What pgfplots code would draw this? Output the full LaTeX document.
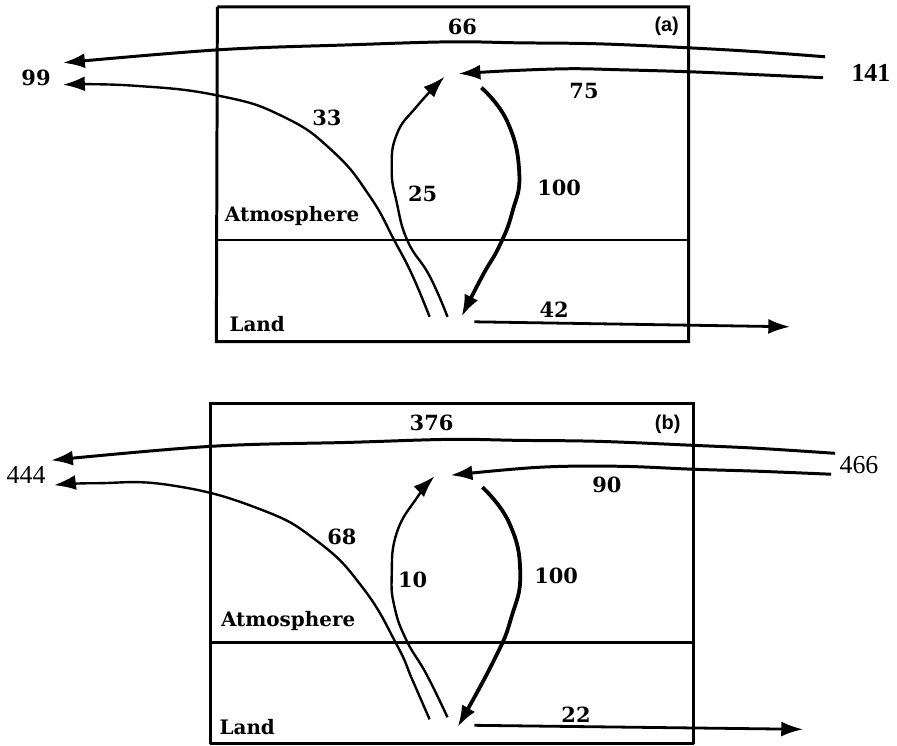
\documentclass[border=0pt]{standalone}
\usepackage{pgfplots}
\pgfplotsset{compat=1.18}
\usetikzlibrary{arrows.meta}
\usepackage{fontspec}
\setmainfont{DejaVu Serif}
\newfontfamily\tnr{Liberation Serif}
\newfontfamily\ssf{Liberation Sans}
\tikzset{
  lbl/.style={font=\bfseries\fontsize{10}{12}\selectfont},
  num/.style={font=\bfseries\fontsize{10.5}{12}\selectfont},
  arr/.style={-{Latex[length=11pt,width=7.5pt]}}}
\begin{document}
\begin{tikzpicture}
\begin{axis}[width=448.5pt,height=374pt,scale only axis,
  xmin=0,xmax=897,ymin=0,ymax=748,y dir=reverse,hide axis,clip=false]
\addplot[draw=none] coordinates {(0,0) (897,748)};
% ---------- panel (a) ----------
\addplot[black,line width=1.5pt,line join=miter] coordinates {(217,7)(690,7)(690,343)(216,343)(217,7)};
\addplot[black,line width=1.3pt] coordinates {(217,241)(690,241)};
\addplot[black,line width=1.5pt,smooth,tension=0.6,arr] coordinates {(827,57)(760,52)(690,48)(600,44)(520,43)(450,42)(350,45)(218,50)(62,63)};
\addplot[black,line width=1.5pt,smooth,tension=0.6,arr] coordinates {(825,78)(760,75)(690,72)(620,70)(570,69)(510,71)(459,74)};
\addplot[black,line width=1.2pt,smooth,tension=0.8,arr] coordinates {(430,318)(413,277)(395,242)(370,197)(333,152)(283,117)(218,96)(133,86)(62,85)};
\addplot[black,line width=1.2pt,smooth,tension=0.8,arr] coordinates {(448,318)(430,277)(408,242)(397,203)(392,170)(397,135)(417,107)(445,77)};
\addplot[black,line width=1.9pt,smooth,tension=0.8,arr] coordinates {(482,88)(508,122)(520,173)(513,213)(500,247)(483,277)(462,318)};
\addplot[black,line width=1.4pt,arr] coordinates {(475,323)(792,328)};
\node[num] at (axis cs:463,27) {66};
\node[font=\ssf\bfseries\fontsize{10}{11}\selectfont] at (axis cs:668,26) {(a)};
\node[font=\tnr\bfseries\fontsize{13}{14}\selectfont] at (axis cs:873,73) {141};
\node[num] at (axis cs:585,91) {75};
\node[num] at (axis cs:35,78) {99};
\node[num] at (axis cs:327,118) {33};
\node[num] at (axis cs:423,195) {25};
\node[num] at (axis cs:560,189) {100};
\node[num] at (axis cs:555,311) {42};
\node[lbl] at (axis cs:292,217) {Atmosphere};
\node[lbl] at (axis cs:257,325) {Land};
% ---------- panel (b) ----------
\addplot[black,line width=1.5pt,line join=miter] coordinates {(210,747)(210,405)(695,405)(695,747)};
\addplot[black,line width=1.3pt] coordinates {(210,746)(695,746)};
\addplot[black,line width=1.3pt] coordinates {(210,645)(695,645)};
\addplot[black,line width=1.5pt,smooth,tension=0.6,arr] coordinates {(837,455)(760,450)(695,447)(600,443)(520,442)(450,441)(350,444)(210,448)(50,462)};
\addplot[black,line width=1.5pt,smooth,tension=0.6,arr] coordinates {(833,476)(760,473)(695,471)(620,468)(540,469)(451,477)};
\addplot[black,line width=1.2pt,smooth,tension=0.8,arr] coordinates {(430,722)(413,683)(397,647)(363,590)(317,543)(257,510)(170,487)(95,485)(53,487)};
\addplot[black,line width=1.2pt,smooth,tension=0.8,arr] coordinates {(448,720)(427,677)(407,643)(395,610)(392,577)(397,535)(417,500)(435,478)};
\addplot[black,line width=1.9pt,smooth,tension=0.8,arr] coordinates {(483,489)(510,525)(521,575)(512,620)(495,662)(458,730)};
\addplot[black,line width=1.4pt,arr] coordinates {(475,728)(805,732)};
\node[num] at (axis cs:432,424) {376};
\node[font=\ssf\bfseries\fontsize{10}{11}\selectfont] at (axis cs:669,426) {(b)};
\node[font=\tnr\fontsize{13}{14}\selectfont] at (axis cs:861,467) {466};
\node[font=\tnr\fontsize{13}{14}\selectfont] at (axis cs:25,477) {444};
\node[num] at (axis cs:608,487) {90};
\node[num] at (axis cs:342,539) {68};
\node[num] at (axis cs:413,582) {10};
\node[num] at (axis cs:557,578) {100};
\node[num] at (axis cs:577,717) {22};
\node[lbl] at (axis cs:288,623) {Atmosphere};
\node[lbl] at (axis cs:247,730) {Land};
\end{axis}
\end{tikzpicture}
\end{document}
